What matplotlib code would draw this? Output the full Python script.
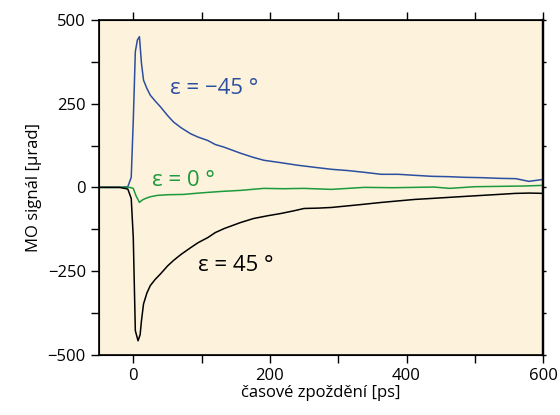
import matplotlib.pyplot as plt

plt.rcParams['font.family'] = ['Open Sans', 'DejaVu Sans']

# casove zpozdeni [ps] a signal [urad]
t_blue = [-50, -20, -8, -3, 0, 3, 6, 9, 12, 15, 20, 25, 32, 40, 50, 59, 70, 84, 95, 109,
          120, 133, 145, 157, 175, 191, 215, 241, 265, 290, 315, 338, 363, 388, 412,
          437, 461, 485, 510, 535, 560, 579, 601]
v_blue = [0, 0, 2, 30, 200, 405, 440, 450, 370, 320, 295, 275, 258, 240, 215, 195, 178, 160,
          150, 140, 128, 120, 111, 102, 90, 81, 74, 66, 60, 54, 50, 45, 39, 39, 36,
          33, 32, 30, 29, 27, 26, 18, 24]

t_green = [-50, -20, -5, 0, 4, 9, 13, 18, 25, 35, 50, 74, 90, 109, 130, 157, 191, 220,
           250, 290, 338, 380, 412, 440, 463, 500, 535, 570, 601]
v_green = [0, 0, 0, -3, -25, -45, -38, -33, -28, -24, -22, -21, -18, -15, -12, -9, -3, -4,
           -3, -6, 0, -1, 0, 1, -3, 2, 3, 4, 6]

t_black = [-50, -20, -8, -3, 0, 3, 7, 10, 12, 15, 20, 25, 32, 40, 50, 59, 70, 84, 95,
           109, 120, 133, 145, 157, 176, 196, 216, 235, 250, 270, 290, 330, 363, 390,
           412, 437, 461, 485, 510, 535, 559, 580, 601]
v_black = [0, 0, -5, -33, -150, -428, -458, -440, -398, -348, -315, -293, -275, -258, -235,
           -218, -200, -180, -165, -150, -135, -123, -114, -105, -93, -85, -78, -70, -63,
           -62, -60, -52, -45, -40, -36, -33, -30, -27, -24, -21, -18, -17, -18]

fig = plt.figure(figsize=(5.6, 4.15), dpi=100)
ax = fig.add_axes([0.177, 0.145, 0.793, 0.807])
ax.set_facecolor('#fdf3dc')

ax.plot(t_blue, v_blue, color='#2c4ea0', lw=1.1)
ax.plot(t_green, v_green, color='#1c9a3c', lw=1.1)
ax.plot(t_black, v_black, color='black', lw=1.1)

ax.text(54, 296, 'ε = −45 °', color='#2c4ea0', fontsize=16, va='center')
ax.text(28, 21, 'ε = 0 °', color='#1c9a3c', fontsize=16, va='center')
ax.text(94, -233, 'ε = 45 °', color='black', fontsize=16, va='center')

ax.set_xlim(-50, 600)
ax.set_ylim(-500, 500)
ax.set_xticks([0, 200, 400, 600])
ax.set_xticks([100, 300, 500], minor=True)
ax.set_yticks([-500, -250, 0, 250, 500])
ax.set_yticklabels(['−500', '−250', '0', '250', '500'])
ax.set_yticks([-375, -125, 125, 375], minor=True)
ax.tick_params(which='both', direction='out', top=True, right=False, labelsize=12,
               width=1, length=6)
for s in ax.spines.values():
    s.set_linewidth(1.2)
ax.spines['right'].set_linewidth(1.6)

# kratke znacky vpravo
ax2 = ax.twinx()
ax2.set_ylim(-500, 500)
ax2.set_yticks([-500, -250, 0, 250, 500])
ax2.set_yticks([-375, -125, 125, 375], minor=True)
ax2.tick_params(which='both', direction='out', length=2, width=1, labelright=False)
ax2.spines['right'].set_linewidth(1.6)

ax.set_xlabel('časové zpoždění [ps]', fontsize=12, labelpad=1)
ax.set_ylabel('MO signál [µrad]', fontsize=12, labelpad=4)

fig.savefig('out.png', dpi=100)
